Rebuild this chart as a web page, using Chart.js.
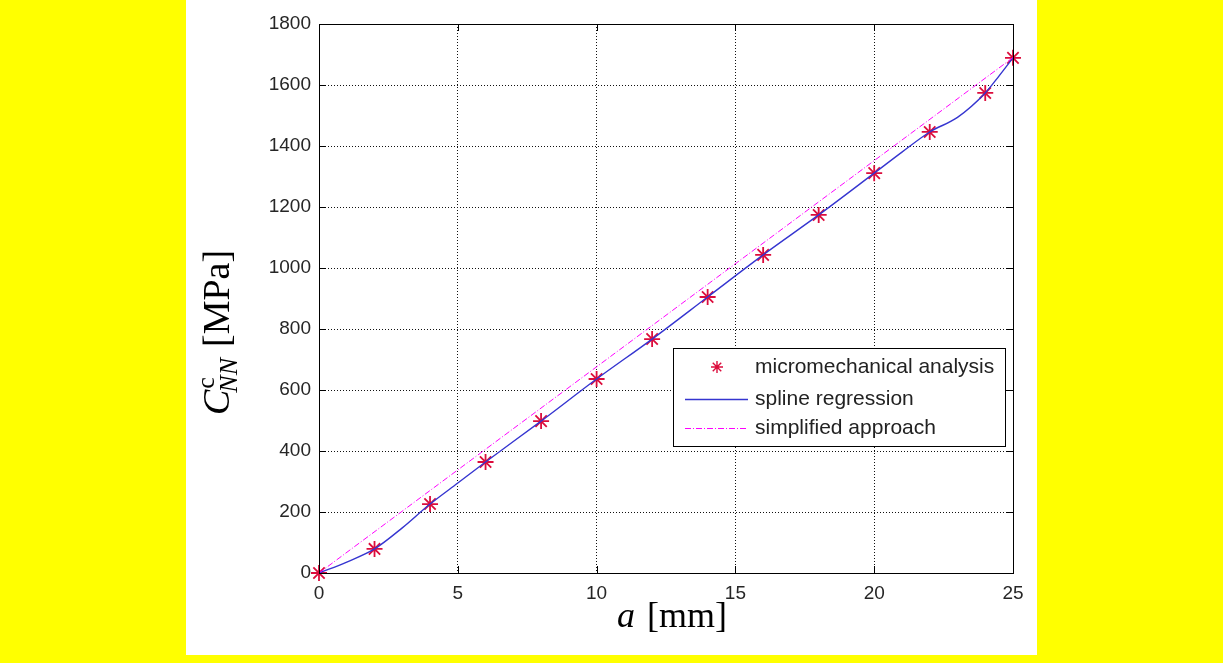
<!DOCTYPE html>
<html>
<head>
<meta charset="utf-8">
<script src="https://cdn.jsdelivr.net/npm/chart.js@4.4.1/dist/chart.umd.min.js"></script>
<style>
  html, body { margin: 0; padding: 0; background: #ffff00; }
  #page { position: absolute; left: 186px; top: 0; width: 851px; height: 655px; background: #fff; }
  #wrap { position: absolute; left: 0; top: 0; width: 1223px; height: 663px; }
</style>
</head>
<body>
<div id="page"></div>
<div id="wrap"><canvas id="chart" width="1223" height="663"></canvas></div>
<script>
// crack length a [mm] and normal stiffness C^c_NN [MPa]
const analysisA = [0, 2, 4, 6, 8, 10, 12, 14, 16, 18, 20, 22, 24, 25];
const analysisC = [0, 79, 226, 364, 498, 636, 767, 905, 1043, 1174, 1311, 1446, 1574, 1689];

const splineA = [0, 1, 2, 3, 4, 5, 6, 8, 10, 12, 14, 16, 18, 20, 21, 22, 23, 24, 24.5, 25];
const splineC = [0, 36, 79, 148, 226, 295, 364, 498, 636, 767, 905, 1043, 1174, 1311, 1380, 1446, 1494, 1574, 1630, 1689];

const simpleA = [0, 25];
const simpleC = [0, 1690];

const xTicks = [0, 5, 10, 15, 20, 25];
const yTicks = [0, 200, 400, 600, 800, 1000, 1200, 1400, 1600, 1800];

const seriesNames = ["micromechanical analysis", "spline regression", "simplified approach"];

const RED = "#dc0c3c";
const BLUE = "#3535d0";
const MAGENTA = "#ff00ff";
const DASHDOT = [6, 2, 1, 2];

const toPoints = (xs, ys) => xs.map((x, i) => ({ x, y: ys[i] }));

// inward ticks on all four sides plus the solid box
const frame = {
  id: "frame",
  afterDatasetsDraw(chart) {
    const { ctx, chartArea: a, scales } = chart;
    ctx.save();
    ctx.strokeStyle = "#000";
    ctx.lineWidth = 1;
    ctx.beginPath();
    xTicks.forEach((v) => {
      const px = Math.round(scales.x.getPixelForValue(v)) + 0.5;
      ctx.moveTo(px, a.bottom); ctx.lineTo(px, a.bottom - 7);
      ctx.moveTo(px, a.top); ctx.lineTo(px, a.top + 7);
    });
    yTicks.forEach((v) => {
      const py = Math.round(scales.y.getPixelForValue(v)) + 0.5;
      ctx.moveTo(a.left, py); ctx.lineTo(a.left + 7, py);
      ctx.moveTo(a.right, py); ctx.lineTo(a.right - 7, py);
    });
    ctx.stroke();
    ctx.strokeRect(Math.round(a.left) + 0.5, Math.round(a.top) + 0.5,
      Math.round(a.right - a.left), Math.round(a.bottom - a.top));
    ctx.restore();
  }
};

// boxed legend in the lower right of the plot
const legendBox = {
  id: "legendBox",
  afterDatasetsDraw(chart) {
    const { ctx } = chart;
    const x0 = 673, y0 = 348, w = 332, h = 98;
    ctx.save();
    ctx.fillStyle = "#fff";
    ctx.fillRect(x0, y0, w, h);
    ctx.strokeStyle = "#000";
    ctx.lineWidth = 1;
    ctx.strokeRect(x0 + 0.5, y0 + 0.5, w, h);

    const rows = [367, 399, 428];
    // star marker
    ctx.strokeStyle = RED;
    ctx.lineWidth = 1.4;
    const r = 6, cx = 717, cy = rows[0];
    ctx.beginPath();
    ctx.moveTo(cx - r, cy); ctx.lineTo(cx + r, cy);
    ctx.moveTo(cx, cy - r); ctx.lineTo(cx, cy + r);
    const d = r * 0.707;
    ctx.moveTo(cx - d, cy - d); ctx.lineTo(cx + d, cy + d);
    ctx.moveTo(cx - d, cy + d); ctx.lineTo(cx + d, cy - d);
    ctx.stroke();

    ctx.strokeStyle = BLUE;
    ctx.lineWidth = 1.3;
    ctx.beginPath();
    ctx.moveTo(685, rows[1] + 0.5); ctx.lineTo(748, rows[1] + 0.5);
    ctx.stroke();

    ctx.strokeStyle = MAGENTA;
    ctx.lineWidth = 1;
    ctx.setLineDash(DASHDOT);
    ctx.beginPath();
    ctx.moveTo(685, rows[2] + 0.5); ctx.lineTo(748, rows[2] + 0.5);
    ctx.stroke();
    ctx.setLineDash([]);

    ctx.fillStyle = "#222";
    ctx.font = "21px 'Liberation Sans', Arial, sans-serif";
    ctx.textBaseline = "middle";
    ctx.textAlign = "left";
    seriesNames.forEach((s, i) => ctx.fillText(s, 755, rows[i]));
    ctx.restore();
  }
};

// LaTeX-style axis titles
const axisTitles = {
  id: "axisTitles",
  afterDraw(chart) {
    const { ctx, chartArea: a } = chart;
    const serif = "'Liberation Serif', 'Times New Roman', serif";
    const big = 36, small = 25;
    ctx.save();
    ctx.fillStyle = "#000";
    ctx.textBaseline = "alphabetic";
    ctx.textAlign = "left";

    // x: a [mm]
    ctx.font = `italic ${big}px ${serif}`;
    const wa = ctx.measureText("a").width;
    ctx.font = `${big}px ${serif}`;
    const wb = ctx.measureText("[mm]").width;
    const gap = 12;
    let x = (a.left + a.right) / 2 + 6 - (wa + gap + wb) / 2;
    const by = 627;
    ctx.font = `italic ${big}px ${serif}`;
    ctx.fillText("a", x, by);
    ctx.font = `${big}px ${serif}`;
    ctx.fillText("[mm]", x + wa + gap, by);

    // y: C^c_NN [MPa]
    const yb = 38, ys = 26;
    ctx.translate(229, 415);
    ctx.rotate(-Math.PI / 2);
    ctx.font = `italic ${yb}px ${serif}`;
    ctx.fillText("C", 0, 0);
    const wc = ctx.measureText("C").width;
    ctx.font = `${ys}px ${serif}`;
    ctx.fillText("c", wc + 1, -15);
    ctx.font = `italic ${ys}px ${serif}`;
    ctx.fillText("NN", wc - 3, 8);
    const wn = ctx.measureText("NN").width;
    ctx.font = `${yb}px ${serif}`;
    ctx.fillText("[MPa]", wc - 3 + wn + 11, 0);
    ctx.restore();
  }
};

const gridOpts = {
  color: "#111",
  lineWidth: 1,
  drawTicks: false
};

const tickFont = { family: "'Liberation Sans', Arial, sans-serif", size: 19 };
const plainNumber = (v) => String(v);

new Chart(document.getElementById("chart"), {
  type: "scatter",
  data: {
    datasets: [
      {
        label: seriesNames[2],
        data: toPoints(simpleA, simpleC),
        showLine: true,
        borderColor: MAGENTA,
        borderWidth: 1,
        borderDash: DASHDOT,
        pointRadius: 0,
        order: 0
      },
      {
        label: seriesNames[1],
        data: toPoints(splineA, splineC),
        showLine: true,
        borderColor: BLUE,
        borderWidth: 1.4,
        cubicInterpolationMode: "monotone",
        pointRadius: 0,
        order: 1
      },
      {
        label: seriesNames[0],
        data: toPoints(analysisA, analysisC),
        showLine: false,
        pointStyle: "star",
        pointRadius: 8,
        borderColor: RED,
        backgroundColor: RED,
        pointBorderWidth: 1.8,
        order: 2
      }
    ]
  },
  options: {
    responsive: false,
    animation: false,
    devicePixelRatio: 1,
    clip: false,
    layout: { padding: { left: 219, right: 210, top: 24, bottom: 40 } },
    plugins: { legend: { display: false }, tooltip: { enabled: false } },
    scales: {
      x: {
        type: "linear",
        min: 0,
        max: 25,
        afterFit: (s) => { s.height = 50; },
        afterBuildTicks: (s) => { s.ticks = xTicks.map((v) => ({ value: v })); },
        grid: gridOpts,
        border: { display: false, dash: [1, 2] },
        ticks: {
          padding: 9,
          color: "#262626",
          font: tickFont,
          maxRotation: 0,
          callback: plainNumber
        }
      },
      y: {
        type: "linear",
        min: 0,
        max: 1800,
        afterFit: (s) => { s.width = 100; },
        afterBuildTicks: (s) => { s.ticks = yTicks.map((v) => ({ value: v })); },
        grid: gridOpts,
        border: { display: false, dash: [1, 2] },
        ticks: {
          padding: 8,
          color: "#262626",
          font: tickFont,
          callback: plainNumber
        }
      }
    }
  },
  plugins: [frame, legendBox, axisTitles]
});
</script>
</body>
</html>
